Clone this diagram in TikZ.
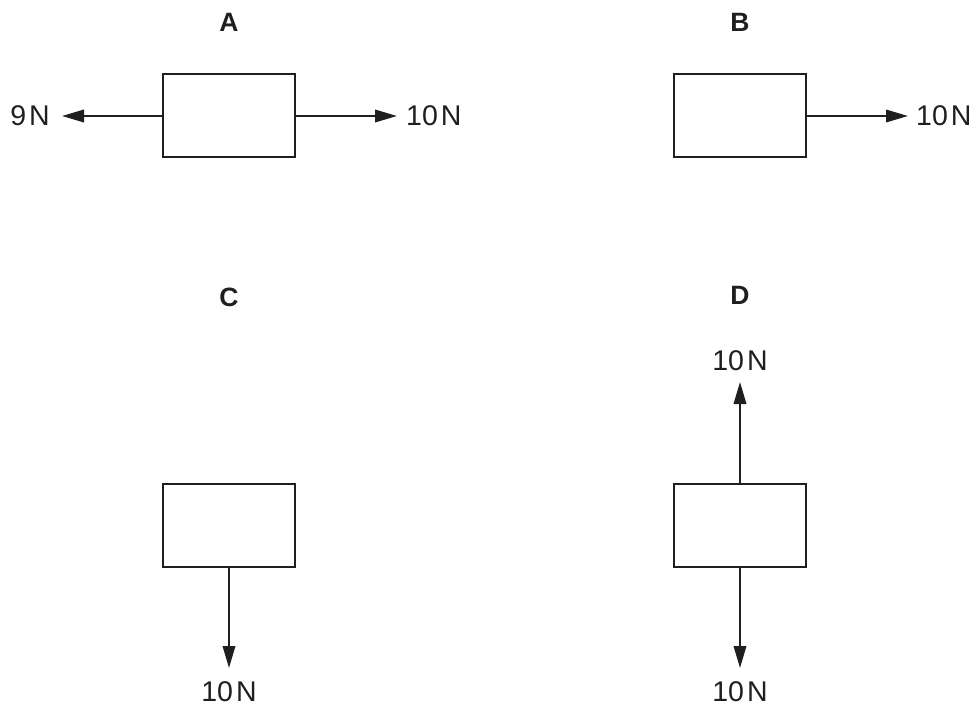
\documentclass[tikz,border=0pt]{standalone}
\usepackage{fontspec}
\setmainfont{Liberation Sans}
\usetikzlibrary{arrows.meta}
\begin{document}
\begin{tikzpicture}[x=1pt,y=-1pt,
  block/.style={draw=black!88,line width=2pt,minimum width=132pt,minimum height=83pt,inner sep=0pt,fill=white},
  force/.style={draw=black!88,line width=2pt,-{Triangle[length=22pt,width=12.5pt]}},
  flabel/.style={inner sep=0pt,font=\fontsize{28.5}{30}\selectfont,text=black!88},
  title/.style={inner sep=0pt,font=\fontsize{26.5}{28}\selectfont\bfseries,text=black!88}]
\useasboundingbox (0,0) rectangle (975,706);
% A
\node[title] (tA) at (229,22) {A};
\node[block] (bA) at (229,116) {};
\coordinate (aL) at (62,116);
\coordinate (aR) at (397,116);
\draw[force] (bA.west) -- (aL);
\draw[force] (bA.east) -- (aR);
\node[flabel,anchor=east] (lA1) at (50,116) {9\kern3pt N};
\node[flabel,anchor=west] (lA2) at (406,116) {10\kern3pt N};
% B
\node[title] (tB) at (740,22) {B};
\node[block] (bB) at (740,116) {};
\coordinate (bR) at (908,116);
\draw[force] (bB.east) -- (bR);
\node[flabel,anchor=west] (lB) at (916,116) {10\kern3pt N};
% C
\node[title] (tC) at (229,297) {C};
\node[block] (bC) at (229,525) {};
\coordinate (cD) at (229,668);
\draw[force] (bC.south) -- (cD);
\node[flabel] (lC) at (229,692) {10\kern3pt N};
% D
\node[title] (tD) at (740,295) {D};
\node[block] (bD) at (740,525) {};
\coordinate (dU) at (740,382);
\coordinate (dD) at (740,668);
\draw[force] (bD.north) -- (dU);
\draw[force] (bD.south) -- (dD);
\node[flabel] (lD1) at (740,361) {10\kern3pt N};
\node[flabel] (lD2) at (740,692) {10\kern3pt N};
\end{tikzpicture}
\end{document}
